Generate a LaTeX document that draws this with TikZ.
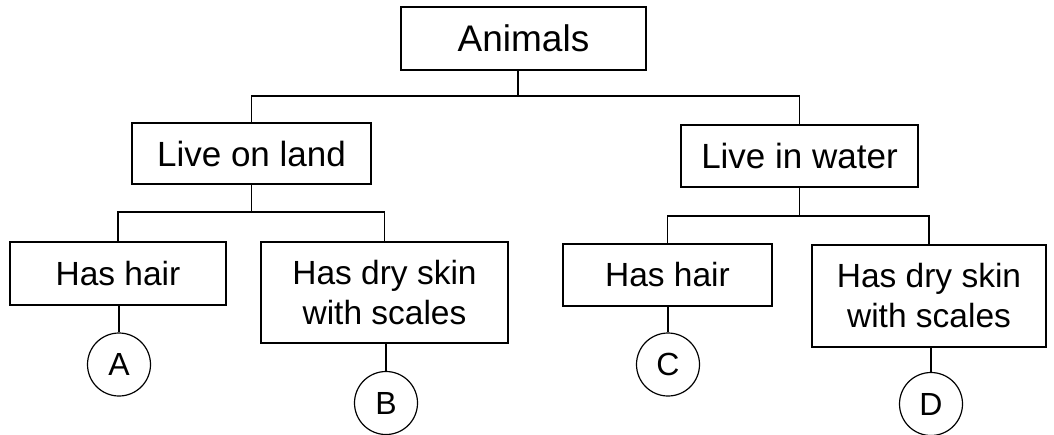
\documentclass[tikz,border=0pt]{standalone}
\usepackage{fontspec}
\setmainfont{Liberation Sans}
\begin{document}
\begin{tikzpicture}[x=1pt,y=-1pt,
  box/.style={draw, line width=1.2pt, inner sep=0pt, align=center,
    font=\fontsize{33.5}{40}\selectfont},
  leaf/.style={draw, circle, line width=1.2pt, inner sep=0pt, minimum size=63pt,
    font=\fontsize{32}{34}\selectfont},
  conn/.style={line width=1.2pt}]
\useasboundingbox (0,0) rectangle (1054,434);
\node[box, minimum width=245pt, minimum height=63pt, font=\fontsize{37}{40}\selectfont] (animals) at (523.5,38.5) {Animals};
\node[box, minimum width=239pt, minimum height=61pt, font=\fontsize{35}{40}\selectfont] (land) at (251.5,153.5) {Live on land};
\node[box, minimum width=237pt, minimum height=62pt, font=\fontsize{35}{40}\selectfont] (water) at (799.5,156) {Live in water};
\node[box, minimum width=216pt, minimum height=63pt] (hairL) at (118,273.5) {Has hair};
\node[box, minimum width=247pt, minimum height=101pt] (skinL) at (384.5,292.5) {Has dry skin\\with scales};
\node[box, minimum width=209pt, minimum height=62pt] (hairR) at (667.5,275) {Has hair};
\node[box, minimum width=234pt, minimum height=102pt] (skinR) at (929,296) {Has dry skin\\with scales};
\node[leaf] (A) at (119,364.5) {A};
\node[leaf] (B) at (386,403) {B};
\node[leaf] (C) at (668,364.5) {C};
\node[leaf] (D) at (931,404) {D};
\coordinate (j1) at (518,96);
\coordinate (j2) at (253,212);
\coordinate (j3) at (800,216);
\draw[conn] (animals.south -| j1) -- (j1);
\draw[conn] (land.north) |- (j1) -| (water.north);
\draw[conn] (land.south) -- (land.south |- j2);
\draw[conn] (hairL.north) |- (j2) -| (skinL.north);
\draw[conn] (water.south) -- (water.south |- j3);
\draw[conn] (hairR.north) |- (j3) -| (skinR.north);
\draw[conn] (A.north |- hairL.south) -- (A.north);
\draw[conn] (B.north |- skinL.south) -- (B.north);
\draw[conn] (C.north |- hairR.south) -- (C.north);
\draw[conn] (D.north |- skinR.south) -- (D.north);
\end{tikzpicture}
\end{document}
